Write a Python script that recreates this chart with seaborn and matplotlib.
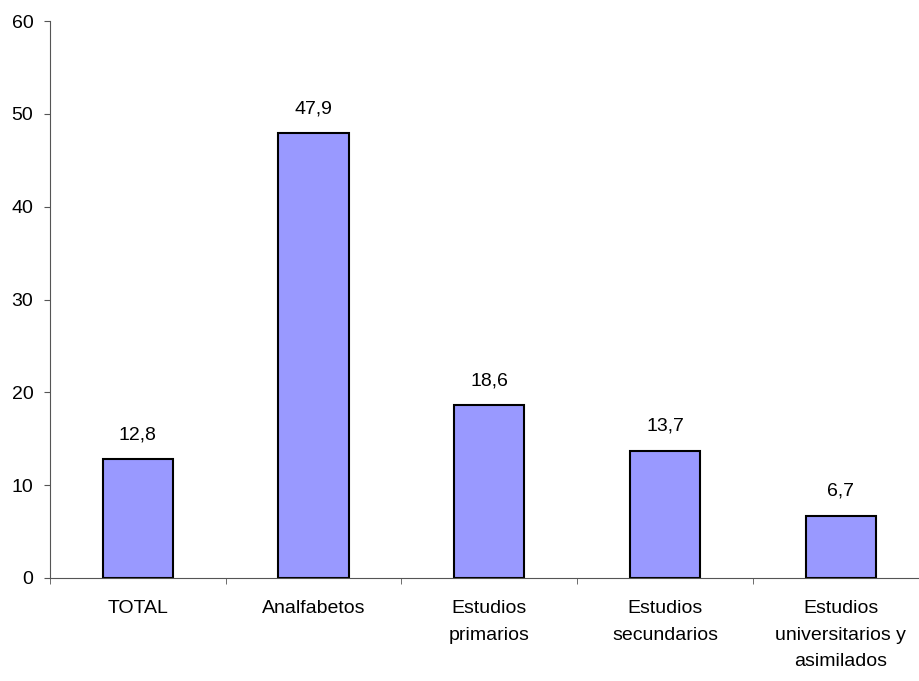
import numpy as np
import pandas as pd
import seaborn as sns
import matplotlib.pyplot as plt

# --- datos ---
categorias = ['TOTAL', 'Analfabetos', 'Estudios\nprimarios',
              'Estudios\nsecundarios', 'Estudios\nuniversitarios y\nasimilados']
valores = [12.8, 47.9, 18.6, 13.7, 6.7]

df = pd.DataFrame({'categoria': categorias, 'valor': valores})

sns.set_style('ticks')
plt.rcParams['font.family'] = ['Liberation Sans', 'DejaVu Sans']
plt.rcParams['text.color'] = 'black'
plt.rcParams['xtick.color'] = '#555555'
plt.rcParams['ytick.color'] = '#555555'
plt.rcParams['xtick.labelcolor'] = 'black'
plt.rcParams['ytick.labelcolor'] = 'black'

fig = plt.figure(figsize=(9.2, 6.81), dpi=100)
ax = fig.add_axes([50 / 920, 103 / 681, 878.5 / 920, 557 / 681])

sns.barplot(data=df, x='categoria', y='valor', color='#9999FF',
            edgecolor='black', linewidth=1.5, width=0.4, saturation=1, ax=ax)

# etiquetas de valores con coma decimal
for i, v in enumerate(valores):
    ax.annotate(f'{v:.1f}'.replace('.', ','), (i, v), xytext=(0, 14.5),
                textcoords='offset points', ha='center', va='baseline', fontsize=14)

ax.set_xlim(-0.5, len(categorias) - 0.5)
ax.set_ylim(0, 60)
ax.set_yticks(range(0, 61, 10))
ax.set_xlabel('')
ax.set_ylabel('')

# marcas entre categorias
ax.set_xticks(np.arange(-0.5, len(categorias), 1.0), minor=True)
ax.tick_params(axis='x', which='major', length=0, pad=16, labelsize=14)
ax.tick_params(axis='x', which='minor', length=4, direction='out')
ax.tick_params(axis='y', length=4, direction='out', labelsize=14, pad=8)
for lbl in ax.get_xticklabels():
    lbl.set_linespacing(1.72)
    lbl.set_verticalalignment('top')

for s in ['top', 'right']:
    ax.spines[s].set_visible(False)
ax.spines['left'].set_color('#555555')
ax.spines['bottom'].set_color('#555555')

fig.savefig('out.png', dpi=100)
